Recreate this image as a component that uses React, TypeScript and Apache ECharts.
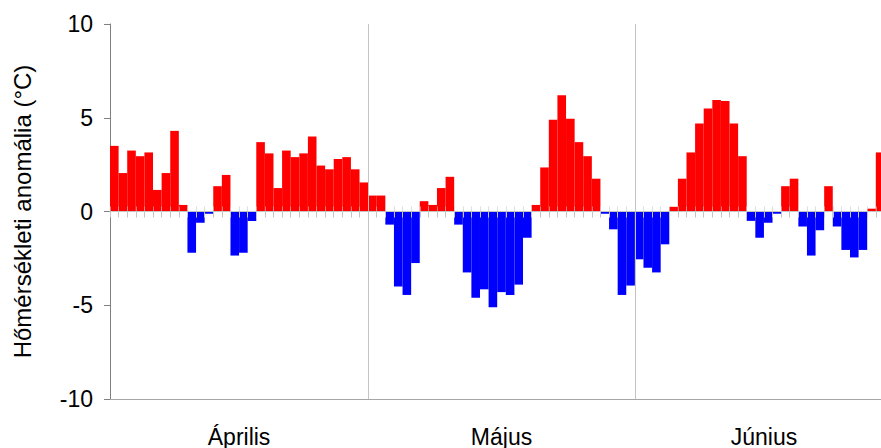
import React, { useEffect, useRef } from "react";
import * as echarts from "echarts";

const monthNames = ["Április", "Május", "Június"];
const monthDays = [30, 31, 30];

const aprilValues = [3.5, 2.05, 3.25, 2.95, 3.15, 1.15, 2.05, 4.3, 0.35, -2.2, -0.6, -0.12, 1.35, 1.95, -2.35, -2.2, -0.5, 3.7, 3.1, 1.25, 3.25, 2.9, 3.1, 4.0, 2.45, 2.25, 2.8, 2.9, 2.25, 1.55];
const mayValues = [0.85, 0.85, -0.7, -4.0, -4.45, -2.75, 0.55, 0.35, 1.25, 1.85, -0.7, -3.25, -4.6, -4.15, -5.1, -4.3, -4.45, -3.9, -1.4, 0.35, 2.35, 4.9, 6.2, 4.95, 3.7, 2.95, 1.75, -0.12, -0.95, -4.45, -3.95];
const juneValues = [-2.55, -3.0, -3.25, -1.75, 0.25, 1.75, 3.15, 4.7, 5.5, 5.95, 5.9, 4.7, 2.95, -0.5, -1.4, -0.6, -0.12, 1.35, 1.75, -0.8, -2.35, -1.0, 1.35, -0.8, -2.05, -2.45, -2.05, 0.15, 3.15, null];

const yTicks = [-10, -5, 0, 5, 10];
const yTitle = "Hőmérsékleti anomália (°C)";

const FONT = "'Liberation Sans', Arial, sans-serif";

export default function App() {
  const ref = useRef<HTMLDivElement>(null);
  useEffect(() => {
    if (!ref.current) return;
    const chart = echarts.init(ref.current, undefined, { renderer: "svg" });
    const values = [...aprilValues, ...mayValues, ...juneValues];
    const days = values.map((_, i) => String(i + 1));
    const totalDays = monthDays.reduce((a, b) => a + b, 0);
    const boundaries: number[] = [];
    const centers: number[] = [];
    let acc = 0;
    monthDays.forEach((d, i) => {
      centers.push(acc + d / 2);
      acc += d;
      if (i < monthDays.length - 1) boundaries.push(acc);
    });
    const gray = "#c4c4c4";
    chart.setOption({
      animation: false,
      textStyle: { fontFamily: FONT },
      grid: { left: 110, top: 24, width: 783, height: 375, containLabel: false },
      xAxis: [
        {
          type: "category",
          data: days,
          position: "bottom",
          z: 5,
          axisLine: { show: true, onZero: true, onZeroAxisIndex: 0, lineStyle: { color: gray, width: 1 } },
          axisTick: { show: true, interval: 0, length: 6, lineStyle: { color: gray } },
          axisLabel: { show: false },
          splitLine: {
            show: true,
            interval: (i: number) => boundaries.includes(i),
            lineStyle: { color: gray, width: 1 },
          },
        },
        {
          type: "category",
          data: days,
          position: "top",
          z: 5,
          axisLine: { show: false, onZero: true, onZeroAxisIndex: 0 },
          axisTick: { show: true, interval: 0, length: 5, lineStyle: { color: "rgba(200,200,200,0.6)" } },
          axisLabel: { show: false },
          splitLine: { show: false },
        },
        {
          type: "value",
          min: 0,
          max: totalDays,
          position: "bottom",
          axisLine: { show: true, onZero: false, lineStyle: { color: "#a6a6a6", width: 1 } },
          axisTick: { show: false },
          splitLine: { show: false },
          axisLabel: {
            show: true,
            customValues: centers,
            formatter: (v: number) => {
              const idx = centers.findIndex((c) => Math.abs(c - v) < 1e-6);
              return idx >= 0 ? monthNames[idx] : "";
            },
            color: "#000",
            fontSize: 23,
            fontFamily: FONT,
            margin: 26,
          },
        },
      ],
      yAxis: {
        type: "value",
        min: yTicks[0],
        max: yTicks[yTicks.length - 1],
        interval: 5,
        name: yTitle,
        nameLocation: "middle",
        nameRotate: 90,
        nameGap: 76,
        nameTextStyle: { color: "#000", fontSize: 24, fontFamily: FONT },
        axisLine: { show: true, onZero: false, lineStyle: { color: "#808080", width: 1 } },
        axisTick: { show: true, length: 6, lineStyle: { color: "#808080" } },
        axisLabel: { color: "#000", fontSize: 23, fontFamily: FONT, margin: 17 },
        splitLine: { show: false },
      },
      series: [
        {
          type: "bar",
          xAxisIndex: 0,
          yAxisIndex: 0,
          data: values,
          barWidth: "100%",
          barCategoryGap: "0%",
          barGap: "0%",
          itemStyle: {
            color: (p: any) => (p.value >= 0 ? "#ff0000" : "#0000ff"),
            borderColor: "rgba(255,255,255,0)",
            borderWidth: 0,
          },
        },
      ],
    });
    return () => chart.dispose();
  }, []);
  return (
    <div style={{ position: "fixed", left: 0, top: 0, width: 881, height: 448, overflow: "hidden", background: "#fff" }}>
      <div ref={ref} style={{ position: "absolute", left: 0, top: 0, width: 900, height: 448 }} />
    </div>
  );
}
